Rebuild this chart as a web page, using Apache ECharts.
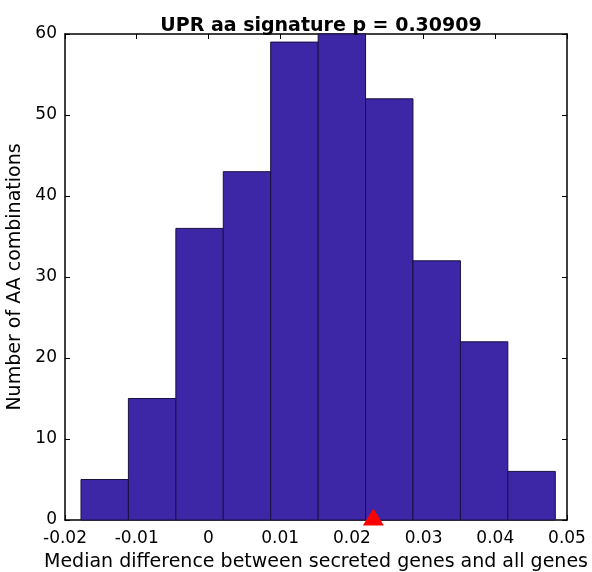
<!DOCTYPE html>
<html><head><meta charset="utf-8">
<script src="https://cdn.jsdelivr.net/npm/echarts@6/dist/echarts.min.js"></script>
<style>html,body{margin:0;padding:0;background:#fff}#c{width:592px;height:572px}</style>
</head><body><div id="c"></div>
<script>
const titleText = 'UPR aa signature p = 0.30909';
const xName = 'Median difference between secreted genes and all genes';
const yName = 'Number of AA combinations';
const binLeft  = [-0.01777, -0.01116, -0.00454, 0.00207, 0.00868, 0.01530, 0.02191, 0.02852, 0.03514, 0.04175];
const binRight = [-0.01116, -0.00454, 0.00207, 0.00868, 0.01530, 0.02191, 0.02852, 0.03514, 0.04175, 0.04837];
const counts   = [5, 15, 36, 43, 59, 60, 52, 32, 22, 6];
const markerX = [0.0230];
const markerY = [0];
const xTicks = [-0.02, -0.01, 0, 0.01, 0.02, 0.03, 0.04, 0.05];

const font = 'DejaVu Sans';
const chart = echarts.init(document.getElementById('c'));
const barData = counts.map((c, i) => [binLeft[i], binRight[i], c]);
const tick = {show: true, inside: true, length: 5, lineStyle: {color: '#000', width: 1}};
const line = {show: true, onZero: false, lineStyle: {color: '#000', width: 1.5}};
chart.setOption({
  animation: false,
  title: {text: titleText, left: 316, top: 12, textAlign: 'center',
    textStyle: {fontFamily: font, fontWeight: 'bold', fontSize: 19, color: '#000'}},
  grid: {left: 65, right: 25, top: 34, bottom: 52, containLabel: false, outerBoundsMode: 'none'},
  xAxis: [{
    type: 'value', min: -0.02, max: 0.05, interval: 0.01,
    name: xName, nameLocation: 'middle', nameGap: 33,
    nameTextStyle: {fontFamily: font, fontSize: 19, color: '#000'},
    axisLine: line, axisTick: tick, splitLine: {show: false},
    axisLabel: {fontFamily: font, fontSize: 17, color: '#000', margin: 10,
      formatter: v => { const t = xTicks.find(x => Math.abs(x - v) < 1e-9); return t === undefined ? '' : String(t); }}
  }, {
    type: 'value', position: 'top', min: -0.02, max: 0.05, interval: 0.01,
    axisLine: line, axisTick: tick, axisLabel: {show: false}, splitLine: {show: false}
  }],
  yAxis: [{
    type: 'value', min: 0, max: 60, interval: 10,
    name: yName, nameLocation: 'middle', nameGap: 28,
    nameTextStyle: {fontFamily: font, fontSize: 19, color: '#000'},
    axisLine: line, axisTick: tick, splitLine: {show: false},
    axisLabel: {fontFamily: font, fontSize: 17, color: '#000', margin: 8}
  }, {
    type: 'value', position: 'right', min: 0, max: 60, interval: 10,
    axisLine: line, axisTick: tick, axisLabel: {show: false}, splitLine: {show: false}
  }],
  series: [{
    type: 'custom',
    data: barData,
    encode: {x: [0, 1], y: 2},
    renderItem: (params, api) => {
      const p0 = api.coord([api.value(0), 0]);
      const p1 = api.coord([api.value(1), api.value(2)]);
      return {type: 'rect',
        shape: {x: p0[0], y: p1[1], width: p1[0] - p0[0], height: p0[1] - p1[1]},
        style: {fill: '#3d27a7', stroke: '#1a1040', lineWidth: 1}};
    }
  }, {
    type: 'scatter', symbol: 'triangle', symbolSize: [21, 17], symbolOffset: [0, -3],
    itemStyle: {color: '#ff0000', opacity: 1}, z: 10,
    data: markerX.map((x, i) => [x, markerY[i]])
  }]
});
</script></body></html>
